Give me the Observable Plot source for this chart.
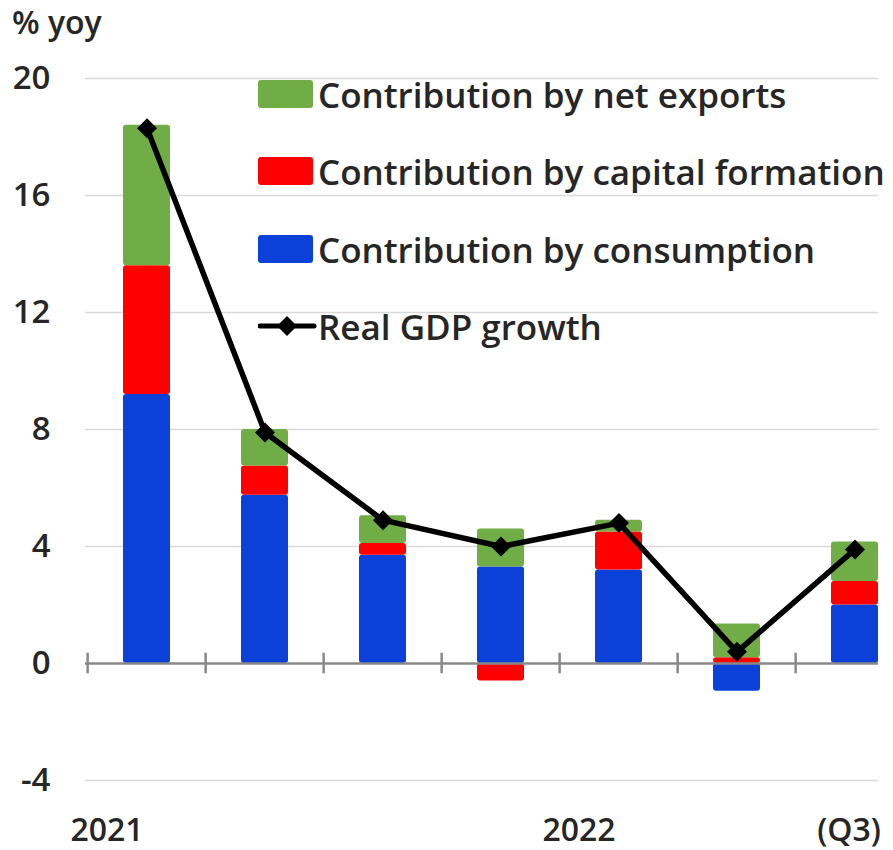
<!DOCTYPE html>
<html>
<head>
<meta charset="utf-8">
<script src="https://cdn.jsdelivr.net/npm/d3@7"></script>
<script src="https://cdn.jsdelivr.net/npm/@observablehq/plot@0.6"></script>
<style>
  html, body { margin: 0; padding: 0; background: #fff; overflow: hidden; }
  #wrap { position: relative; width: 893px; height: 850px; font-family: "Open Sans", sans-serif; }
  .legend { position: absolute; left: 258px; top: 0; font-weight: 600; font-size: 35px; color: #262626; }
  .row { position: absolute; left: 0; white-space: nowrap; display: flex; align-items: center; height: 40px; }
  .sw { width: 55px; height: 28px; border-radius: 3px; margin-right: 5px; }
  .title { position: absolute; left: 12px; top: 0px; font-weight: 600; font-size: 32px; color: #262626; }
</style>
</head>
<body>
<div id="wrap"></div>
<script>
const quarters = ["2021Q1", "2021Q2", "2021Q3", "2021Q4", "2022Q1", "2022Q2", "2022Q3"];
const consumption = [9.2, 5.75, 3.7, 3.3, 3.2, -0.95, 2.0];
const capitalFormation = [4.4, 1.0, 0.4, -0.6, 1.3, 0.2, 0.8];
const netExports = [4.8, 1.25, 0.95, 1.3, 0.4, 1.15, 1.35];
const gdpGrowth = [18.3, 7.9, 4.9, 4.0, 4.8, 0.4, 3.9];
const yTicks = [-4, 0, 4, 8, 12, 16, 20];
const xLabels = [
  {q: "2021Q1", label: "2021"},
  {q: "2022Q1", label: "2022"},
  {q: "2022Q3", label: "(Q3)"}
];
const seriesNames = ["Contribution by consumption", "Contribution by capital formation", "Contribution by net exports"];
const seriesColors = ["#0b41d9", "#ff0000", "#70ad47"];

const stacked = [];
quarters.forEach((q, i) => {
  stacked.push({q, s: seriesNames[0], v: consumption[i]});
  stacked.push({q, s: seriesNames[1], v: capitalFormation[i]});
  stacked.push({q, s: seriesNames[2], v: netExports[i]});
});
const line = quarters.map((q, i) => ({q, v: gdpGrowth[i]}));

const step = (916 - 85) / quarters.length;
const font = "Open Sans, sans-serif";
const labelStyle = {fontSize: 32, fontWeight: 600, fill: "#262626"};

const chart = Plot.plot({
  width: 893,
  height: 850,
  marginTop: 78,
  marginBottom: 70,
  marginLeft: 85,
  marginRight: 15,
  style: {fontFamily: font, background: "white"},
  x: {type: "band", domain: quarters, range: [85, 916], paddingInner: 0.6, paddingOuter: 0.3, axis: null},
  y: {domain: [-4, 20], axis: null},
  color: {domain: seriesNames, range: seriesColors},
  marks: [
    Plot.ruleY(yTicks.filter(d => d !== 0), {stroke: "#d9d9d9", strokeWidth: 1.5}),
    Plot.barY(stacked, Plot.stackY({x: "q", y: "v", fill: "s", z: "s", order: seriesNames, rx: 3})),
    Plot.ruleY([0], {stroke: "#888", strokeWidth: 2.5}),
    Plot.ruleX(quarters, {x: d => d, y1: -0.35, y2: 0.35, dx: -step / 2, stroke: "#888", strokeWidth: 2.5}),
    Plot.line(line, {x: "q", y: "v", stroke: "black", strokeWidth: 5.5}),
    Plot.dot(line, {x: "q", y: "v", symbol: "diamond2", r: 9, fill: "black", stroke: "none"}),
    Plot.text(yTicks, {y: d => d, frameAnchor: "left", textAnchor: "end", dx: -35, text: d => String(d), fontSize: 33, fontWeight: 600, fill: "#262626"}),
    Plot.text(xLabels.slice(0, 2), {x: "q", y: () => -4, dy: 50, dx: -40, text: "label", ...labelStyle}),
    Plot.text(xLabels.slice(2), {x: "q", y: () => -4, dy: 50, dx: -6, text: "label", ...labelStyle})
  ]
});

const wrap = document.getElementById("wrap");
wrap.appendChild(chart);
chart.style.overflow = "hidden";

const title = document.createElement("div");
title.className = "title";
title.textContent = "% yoy";
wrap.appendChild(title);

const legend = document.createElement("div");
legend.className = "legend";
const legendItems = [
  {name: seriesNames[2], color: seriesColors[2], top: 74},
  {name: seriesNames[1], color: seriesColors[1], top: 151},
  {name: seriesNames[0], color: seriesColors[0], top: 229},
  {name: "Real GDP growth", color: null, top: 306}
];
legendItems.forEach(it => {
  const row = document.createElement("div");
  row.className = "row";
  row.style.top = it.top + "px";
  if (it.color) {
    const sw = document.createElement("div");
    sw.className = "sw";
    sw.style.background = it.color;
    row.appendChild(sw);
  } else {
    const ns = "http://www.w3.org/2000/svg";
    const s = document.createElementNS(ns, "svg");
    s.setAttribute("width", 60); s.setAttribute("height", 28);
    const l = document.createElementNS(ns, "line");
    l.setAttribute("x1", 2); l.setAttribute("x2", 56); l.setAttribute("y1", 14); l.setAttribute("y2", 14);
    l.setAttribute("stroke", "black"); l.setAttribute("stroke-width", 5); l.setAttribute("stroke-linecap", "round");
    const p = document.createElementNS(ns, "path");
    p.setAttribute("d", "M29,4 L39,14 L29,24 L19,14 Z");
    p.setAttribute("fill", "black");
    s.appendChild(l); s.appendChild(p);
    s.style.display = "block";
    row.appendChild(s);
  }
  const t = document.createElement("span");
  t.textContent = it.name;
  row.appendChild(t);
  legend.appendChild(row);
});
wrap.appendChild(legend);
</script>
</body>
</html>
